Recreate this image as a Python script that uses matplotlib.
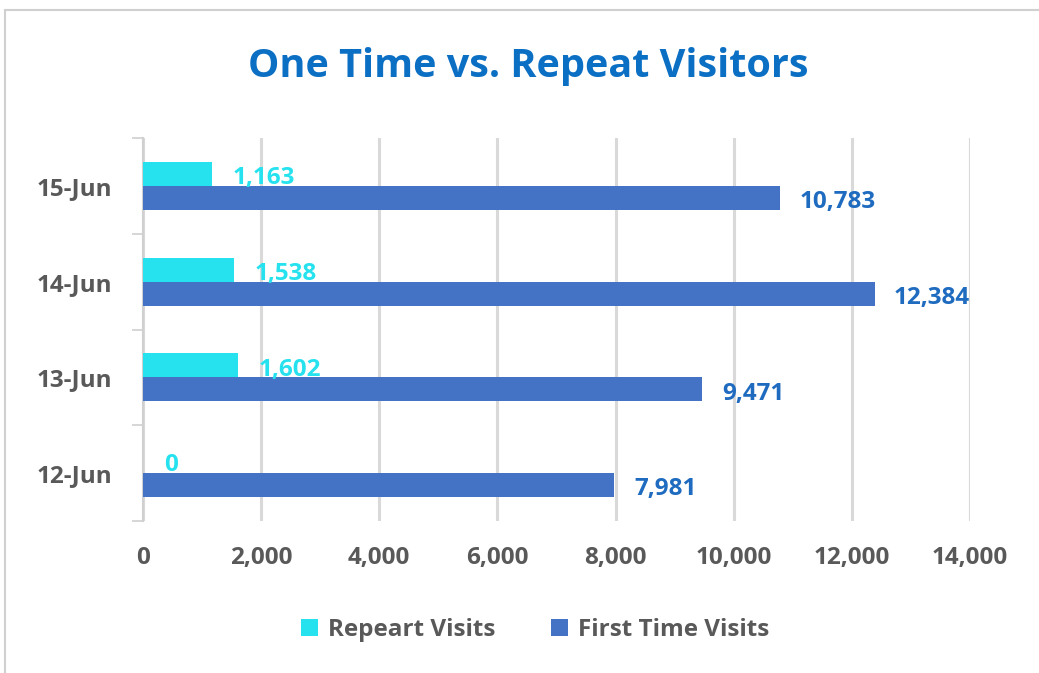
import matplotlib
matplotlib.use("Agg")
import matplotlib.pyplot as plt
from matplotlib.patches import Rectangle
import numpy as np

categories = ["12-Jun", "13-Jun", "14-Jun", "15-Jun"]
repeat_visits = [0, 1602, 1538, 1163]
first_visits = [7981, 9471, 12384, 10783]
xticks = [0, 2000, 4000, 6000, 8000, 10000, 12000, 14000]

plt.rcParams['font.family'] = ['Open Sans', 'DejaVu Sans']

W, H = 1039, 673
fig = plt.figure(figsize=(W/100, H/100), dpi=100)
fig.patches.append(Rectangle((5/W, -0.1), 1.2, 1 - 10/H + 0.1, transform=fig.transFigure,
                             fill=False, edgecolor="#D0D0D0", linewidth=1.5))

ax = fig.add_axes([143/W, 1-521/H, (970-143)/W, (521-138)/H])
y = np.arange(len(categories))
h = 0.25
c_rep = "#26E2EE"
c_first = "#4472C4"
ax.barh(y + h/2, repeat_visits, height=h, color=c_rep, label="Repeart Visits", zorder=3)
ax.barh(y - h/2, first_visits, height=h, color=c_first, label="First Time Visits", zorder=3)

FS = 17.5
for yi, v in zip(y, repeat_visits):
    ax.annotate(f"{v:,}", (v, yi + h/2), xytext=(15, -3), textcoords="offset points",
                ha="left", va="center", color=c_rep, fontsize=FS, fontweight="bold")
for yi, v in zip(y, first_visits):
    ax.annotate(f"{v:,}", (v, yi - h/2), xytext=(14, -3), textcoords="offset points",
                ha="left", va="center", color="#1F6BBF", fontsize=FS, fontweight="bold")

ax.set_xlim(0, 14000)
ax.set_ylim(-0.5, 3.5)
ax.set_xticks(xticks)
ax.set_xticklabels([f"{t:,}" for t in xticks], fontsize=FS, fontweight="bold", color="#595959")
ax.set_yticks(y)
ax.set_yticklabels(categories, fontsize=FS, fontweight="bold", color="#595959")
ax.set_yticks(np.arange(-0.5, 4, 1), minor=True)
ax.tick_params(axis="y", which="major", length=0, pad=22)
ax.tick_params(axis="y", which="minor", length=8, width=1.2, color="#D0D0D0")
ax.tick_params(axis="x", length=0, pad=18)
ax.grid(axis="x", color="#D9D9D9", linewidth=2.2, zorder=0)
for s in ["top", "right", "bottom"]:
    ax.spines[s].set_visible(False)
ax.spines["left"].set_color("#D0D0D0")
ax.spines["left"].set_linewidth(1.5)

fig.text(528/W, 1-67/H, "One Time vs. Repeat Visitors", ha="center", va="center",
         fontsize=28.5, fontweight="bold", color="#0B6FC4")

handles, labels = ax.get_legend_handles_labels()
fig.legend(handles, labels, loc="center", bbox_to_anchor=(535/W, 1-630/H), ncol=2, frameon=False,
           prop={"size": FS, "weight": "bold"}, labelcolor="#595959", handlelength=0.7,
           handleheight=0.7, columnspacing=2.3, handletextpad=0.4)

fig.savefig("out.png", dpi=100)
